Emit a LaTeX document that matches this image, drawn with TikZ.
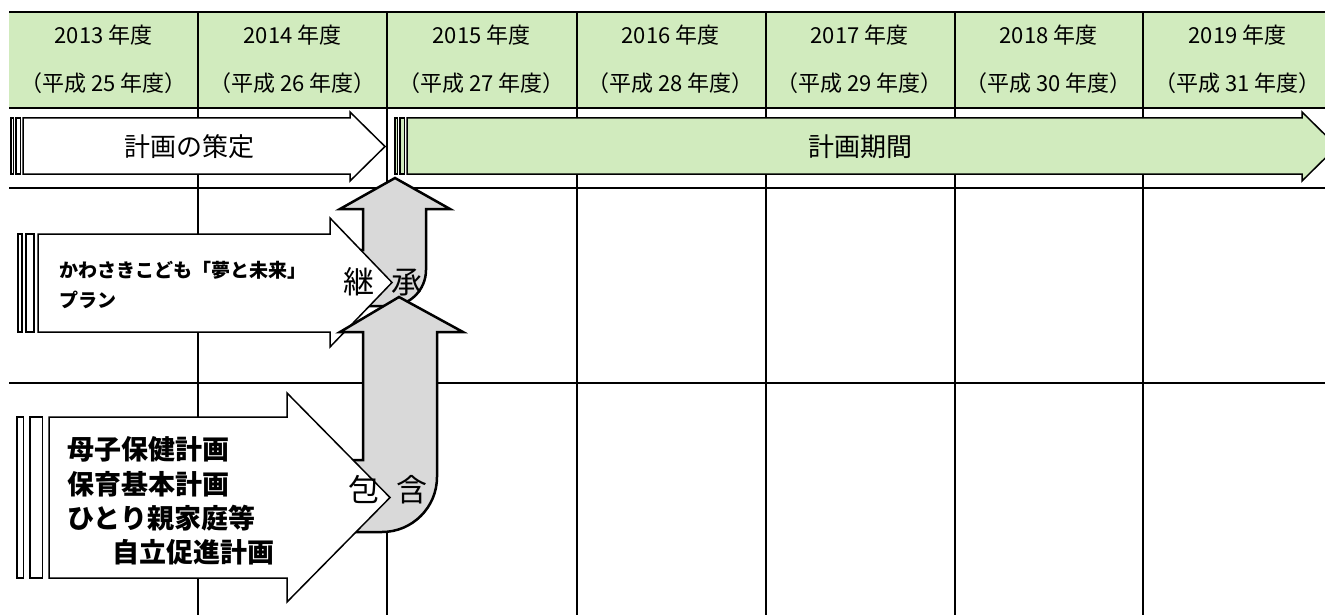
\documentclass[tikz,border=0pt]{standalone}
\usepackage{fontspec}
\setmainfont{Noto Sans CJK JP}
\usetikzlibrary{positioning}
\definecolor{planGreen}{RGB}{209,235,190}
\definecolor{planGray}{RGB}{217,217,217}
\tikzset{
    %Define table lines
    thinline/.style={line width=1.2pt},
    thickline/.style={line width=2pt},
    %Define style for the plan arrows
    planarrow/.style={draw=black, line width=1.5pt, fill=white},
    %Define style for the bent arrows
    bentarrow/.style={draw=black, line width=2.5pt, fill=planGray},
    %Define text styles
    yeartext/.style={font=\fontsize{22}{26}\selectfont},
    bigtext/.style={font=\fontsize{26}{30}\selectfont},
    kawasakitext/.style={font=\fontsize{19}{30}\selectfont\bfseries, align=left, anchor=west},
    boshitext/.style={font=\fontsize{27}{34.3}\selectfont\bfseries, align=left, anchor=west},
    linktext/.style={font=\fontsize{31}{34}\selectfont}
}
\begin{document}
\begin{tikzpicture}[x=1pt, y=-1pt]
    \useasboundingbox (0,0) rectangle (1325,615);
    \clip (0,0) rectangle (1325,615);
    % table
    \fill[planGreen] (9,12) rectangle (1325,108);
    \foreach \x in {198,387,577,766,955,1143}
        \draw[thinline] (\x,12) -- (\x,615);
    \foreach \y in {12,108,188,383}
        \draw[thickline] (9,\y) -- (1325,\y);
    \foreach \yr [evaluate=\yr as \cx using 103.5+189*(\yr-2013),
                  evaluate=\yr as \hs using int(\yr-1988)] in {2013,...,2019} {
        \node[yeartext] (year\yr) at (\cx,35) {\yr{} 年度};
        \node[yeartext] (heisei\yr) at (\cx,83) {（平成 \hs{} 年度）};
    }

    % planning arrow
    \draw[planarrow] (11,118) rectangle (13.4,174);
    \draw[planarrow] (15.8,118) rectangle (20.6,174);
    \draw[planarrow] (23,118) -- (350,118) -- (350,112) -- (385,146.5)
        -- (350,181) -- (350,174) -- (23,174) -- cycle;
    % plan period arrow
    \draw[planarrow, fill=planGreen] (395,118) rectangle (397.4,174);
    \draw[planarrow, fill=planGreen] (399.8,118) rectangle (404.6,174);
    \draw[planarrow, fill=planGreen] (407,118) -- (1302,118) -- (1302,112) -- (1337,146.5)
        -- (1302,181) -- (1302,174) -- (407,174) -- cycle;

    % inherit arrow
    \draw[bentarrow] (395,178) -- (450,209) -- (426,209) -- (426,270)
        arc[start angle=0, end angle=90, radius=36] -- (335,306) -- (335,250)
        -- (363,250) -- (363,209) -- (340,209) -- cycle;
    % kawasaki plan arrow
    \draw[planarrow] (18,234) rectangle (22,332);
    \draw[planarrow] (26,234) rectangle (34,332);
    \draw[planarrow] (38,234) -- (330,234) -- (330,218) -- (392,282.5)
        -- (330,347) -- (330,332) -- (38,332) -- cycle;

    % include arrow
    \draw[bentarrow] (399,297) -- (463,332) -- (437,332) -- (437,477)
        arc[start angle=0, end angle=90, radius=55] -- (300,532) -- (300,460)
        -- (363,460) -- (363,332) -- (340,332) -- cycle;
    % old plans arrow
    \draw[planarrow] (17,417) rectangle (23.4,578);
    \draw[planarrow] (29.8,417) rectangle (42.6,578);
    \draw[planarrow] (49,417) -- (287,417) -- (287,393) -- (390,497.5)
        -- (287,602) -- (287,578) -- (49,578) -- cycle;

    % texts
    \node[bigtext] (sakutei) at (189,147) {計画の策定};
    \node[bigtext] (kikan) at (860,147) {計画期間};
    \node[kawasakitext] (kawasaki) at (56,285) {かわさきこども「夢と未来」\\プラン};
    \node[boshitext] (boshi) at (64,501) {母子保健計画\\保育基本計画\\ひとり親家庭等\\\hspace*{45pt}自立促進計画};
    \node[linktext] (keisho) at (383,282) {継\hspace{18pt}承};
    \node[linktext] (hogan) at (388,490) {包\hspace{18pt}含};
\end{tikzpicture}
\end{document}
